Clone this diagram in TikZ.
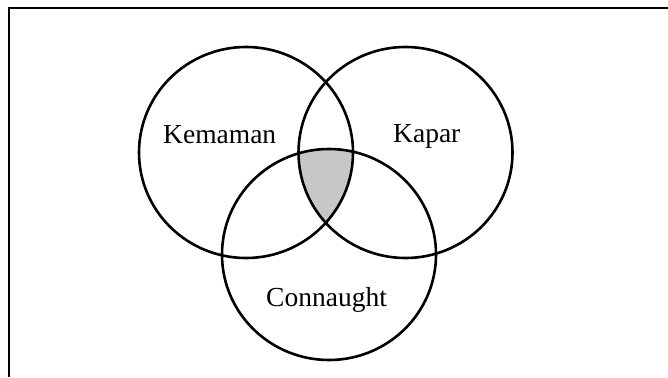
\documentclass[tikz,border=0pt]{standalone}
\usepackage{fontspec}
\setmainfont{Liberation Serif}
\begin{document}
\begin{tikzpicture}[x=1pt,y=-1pt,
  ring/.style={line width=2.6pt},
  frameline/.style={line width=2.2pt},
  lbl/.style={font=\fontsize{27.5}{30}\selectfont, inner sep=0pt, anchor=base west}]
\useasboundingbox (0,0) rectangle (668,377);
\fill[white] (0,0) rectangle (668,377);
% frame (only top and left visible)
\draw[frameline] (9,377) -- (9,8) -- (668,8);
% shaded triple intersection
\begin{scope}
  \clip (246,152.5) ellipse [x radius=107, y radius=105.5];
  \clip (405.5,152.5) ellipse [x radius=107, y radius=105.5];
  \fill[black!22] (329,254.5) ellipse [x radius=107, y radius=105.5];
\end{scope}
% circles
\draw[ring] (246,152.5) ellipse [x radius=107, y radius=105.5];
\draw[ring] (405.5,152.5) ellipse [x radius=107, y radius=105.5];
\draw[ring] (329,254.5) ellipse [x radius=107, y radius=105.5];
% labels
\node[lbl] (kem) at (163,143) {Kemaman};
\node[lbl] (kap) at (393,142) {Kapar};
\node[lbl] (con) at (266,306) {Connaught};
\end{tikzpicture}
\end{document}
